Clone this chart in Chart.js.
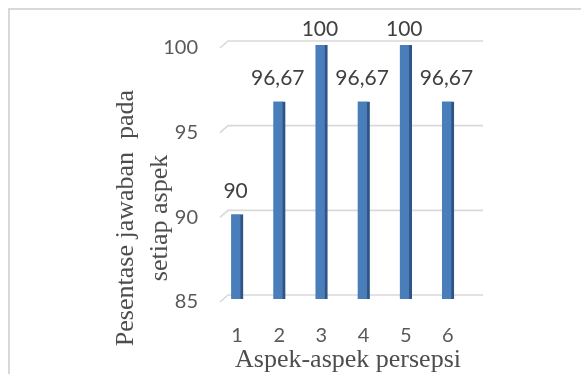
<!DOCTYPE html>
<html>
<head>
<meta charset="utf-8">
<script src="https://cdn.jsdelivr.net/npm/chart.js@4"></script>
<style>
  html, body { margin: 0; padding: 0; background: #ffffff; }
  #wrap { position: relative; width: 581px; height: 374px; overflow: hidden; }
  #frame { position: absolute; left: 8px; top: 8px; width: 600px; height: 400px;
           border-left: 2px solid #d9d9d9; border-top: 2px solid #d9d9d9; box-sizing: border-box; }
  canvas { position: absolute; left: 0; top: 0; }
</style>
</head>
<body>
<div id="wrap">
  <div id="frame"></div>
  <canvas id="c" width="581" height="374"></canvas>
</div>
<script>
// ---- data ----
const categories = ["1", "2", "3", "4", "5", "6"];
const values = [90, 96.67, 100, 96.67, 100, 96.67];
const yTicks = [85, 90, 95, 100];
const yTitleLines = ["Pesentase jawaban  pada", "setiap aspek"];
const xTitle = "Aspek-aspek persepsi";

const tickFont = { family: "Lato, 'Open Sans', sans-serif", size: 20 };
const serif = "'Liberation Serif', 'DejaVu Serif', serif";

const backWall = {
  id: 'backWall',
  beforeDatasetsDraw(chart) {
    const { ctx, chartArea } = chart;
    const y = chart.scales.y;
    ctx.save();
    ctx.strokeStyle = '#d9d9d9';
    ctx.lineWidth = 1.6;
    yTicks.forEach(v => {
      const py = y.getPixelForValue(v);
      ctx.beginPath();
      ctx.moveTo(chartArea.left + 4, py + 3);
      ctx.lineTo(chartArea.left + 12, py - 4);
      ctx.lineTo(chartArea.right + 14, py - 4);
      ctx.stroke();
    });
    ctx.restore();
  }
};

const labelsAndTitles = {
  id: 'labelsAndTitles',
  afterDatasetsDraw(chart) {
    const { ctx } = chart;
    const meta = chart.getDatasetMeta(0);
    ctx.save();
    ctx.fillStyle = '#404040';
    ctx.font = "21px Lato, 'Open Sans', sans-serif";
    ctx.textAlign = 'center';
    ctx.textBaseline = 'middle';
    meta.data.forEach((bar, i) => {
      const txt = String(values[i]).replace('.', ',');
      const ty = Math.max(bar.y - 23, 29);
      ctx.fillText(txt, bar.x - 1.5, ty);
    });
    // axis titles
    ctx.fillStyle = '#4d4d4d';
    ctx.font = "26px " + serif;
    ctx.fillText(xTitle, 348, 360);
    ctx.translate(126, 218);
    ctx.rotate(-Math.PI / 2);
    yTitleLines.forEach((line, i) => {
      ctx.fillText(line, 0, i * 34);
    });
    ctx.restore();
  }
};

new Chart(document.getElementById('c'), {
  type: 'bar',
  data: {
    labels: categories,
    datasets: [{
      data: values,
      backgroundColor: '#4a7ebb',
      borderColor: '#2f5488',
      borderWidth: { top: 0, left: 0, bottom: 0, right: 3 },
      borderSkipped: false,
      barThickness: 12
    }]
  },
  options: {
    responsive: false,
    animation: false,
    events: [],
    layout: { padding: { top: 45, right: 112, bottom: 0, left: 0 } },
    plugins: { legend: { display: false }, tooltip: { enabled: false }, title: { display: false } },
    scales: {
      x: {
        offset: true,
        grid: { display: false, drawTicks: false },
        border: { display: false },
        ticks: { color: '#595959', font: tickFont, padding: 25 },
        afterFit(s) { s.height = 75; }
      },
      y: {
        min: 85, max: 100,
        afterBuildTicks(s) { s.ticks = yTicks.map(v => ({ value: v })); },
        grid: { display: false, drawTicks: false },
        border: { display: false },
        ticks: { color: '#595959', font: tickFont, padding: 18, labelOffset: 3 },
        afterFit(s) { s.width = 216; }
      }
    }
  },
  plugins: [backWall, labelsAndTitles]
});
</script>
</body>
</html>
